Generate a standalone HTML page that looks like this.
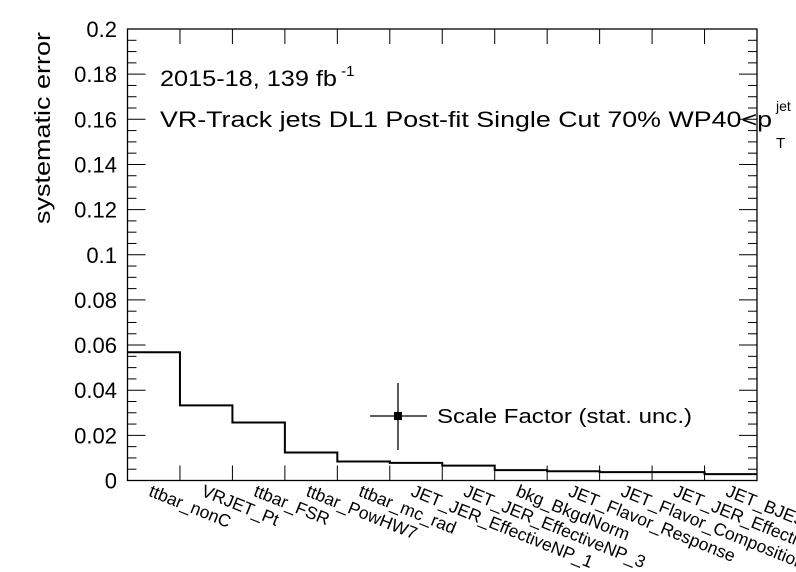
<!DOCTYPE html>
<html><head><meta charset="utf-8"><style>
body{margin:0;background:#fff;}
svg{display:block;font-family:"Liberation Sans",Arial,sans-serif;}
</style></head><body>
<svg id="c" width="796" height="572" viewBox="0 0 796 572">
<g id="axes"></g>
<g id="series"></g>
<g id="labels"></g>
<text x="0" y="0" transform="translate(50,128) rotate(-90)" text-anchor="middle" font-size="22" textLength="192" lengthAdjust="spacingAndGlyphs">systematic error</text>
<text x="160" y="86" font-size="22"><tspan textLength="177" lengthAdjust="spacingAndGlyphs">2015-18, 139 fb</tspan><tspan font-size="15" dy="-10"> -1</tspan></text>
<text x="160" y="127" font-size="22" textLength="612" lengthAdjust="spacingAndGlyphs">VR-Track jets DL1 Post-fit Single Cut 70% WP40&lt;p</text>
<text x="776" y="111" font-size="14">jet</text>
<text x="776" y="148" font-size="15">T</text>
<g>
<line x1="398" y1="383" x2="398" y2="450" stroke="#000" stroke-width="1.3"/>
<line x1="370" y1="416" x2="427" y2="416" stroke="#000" stroke-width="1.3"/>
<rect x="394" y="412" width="8" height="8" fill="#000"/>
<text x="437" y="423" font-size="20" textLength="255" lengthAdjust="spacingAndGlyphs">Scale Factor (stat. unc.)</text>
</g>
</svg>
<script>
const categories=["ttbar_nonC","VRJET_Pt","ttbar_FSR","ttbar_PowHW7","ttbar_mc_rad","JET_JER_EffectiveNP_1","JET_JER_EffectiveNP_3","bkg_BkgdNorm","JET_Flavor_Response","JET_Flavor_Composition","JET_JER_EffectiveNP_2","JET_BJES_Response"];
const values=[0.0568,0.0333,0.0257,0.0124,0.0084,0.0078,0.0066,0.0046,0.0041,0.0037,0.0037,0.0028];
const yTicks=[0,0.02,0.04,0.06,0.08,0.1,0.12,0.14,0.16,0.18,0.2];
const yTickLabels=["0","0.02","0.04","0.06","0.08","0.1","0.12","0.14","0.16","0.18","0.2"];
const X0=127.5,X1=757,Y0=480.5,Y1=29,YMAX=0.2;
const NS="http://www.w3.org/2000/svg";
function xs(i){return X0+(X1-X0)*i/categories.length;}
function ys(v){return Y0-(Y0-Y1)*v/YMAX;}
function mk(tag,attrs,parent){const e=document.createElementNS(NS,tag);for(const k in attrs)e.setAttribute(k,attrs[k]);parent.appendChild(e);return e;}
const ax=document.getElementById('axes');
const frame=mk('rect',{x:X0,y:Y1,width:X1-X0,height:Y0-Y1,fill:'none',stroke:'#000','stroke-width':1.3},ax);


for(let v=0;v<=YMAX+1e-9;v+=0.005){
  const major=Math.abs(v/0.02-Math.round(v/0.02))<1e-6;const L=major?18:9;const y=ys(v);
  mk('line',{x1:X0,y1:y,x2:X0+L,y2:y,stroke:'#000','stroke-width':1},ax);
  mk('line',{x1:X1,y1:y,x2:X1-L,y2:y,stroke:'#000','stroke-width':1},ax);
}
yTicks.forEach((v,i)=>{
  const t=mk('text',{x:117,y:ys(v)+8,'text-anchor':'end','font-size':22},ax);
  t.textContent=yTickLabels[i];
  
  
});
for(let i=1;i<categories.length;i++){
  const x=xs(i);
  mk('line',{x1:x,y1:Y0,x2:x,y2:Y0-15,stroke:'#000','stroke-width':1},ax);
  mk('line',{x1:x,y1:Y1,x2:x,y2:Y1+15,stroke:'#000','stroke-width':1},ax);
}
let d='';
values.forEach((v,i)=>{d+=(i===0?'M':'L')+xs(i)+','+ys(v)+'L'+xs(i+1)+','+ys(v);});
const p=mk('path',{d:d,fill:'none',stroke:'#000','stroke-width':2},document.getElementById('series'));


const lb=document.getElementById('labels');
categories.forEach((c,i)=>{
  const x=(xs(i)+xs(i+1))/2-6;
  const t=mk('text',{x:0,y:0,'font-size':17.5,transform:'translate('+x+','+(Y0+15)+') rotate(22)'},lb);
  t.textContent=c;
  
  
});
</script>
</body></html>
